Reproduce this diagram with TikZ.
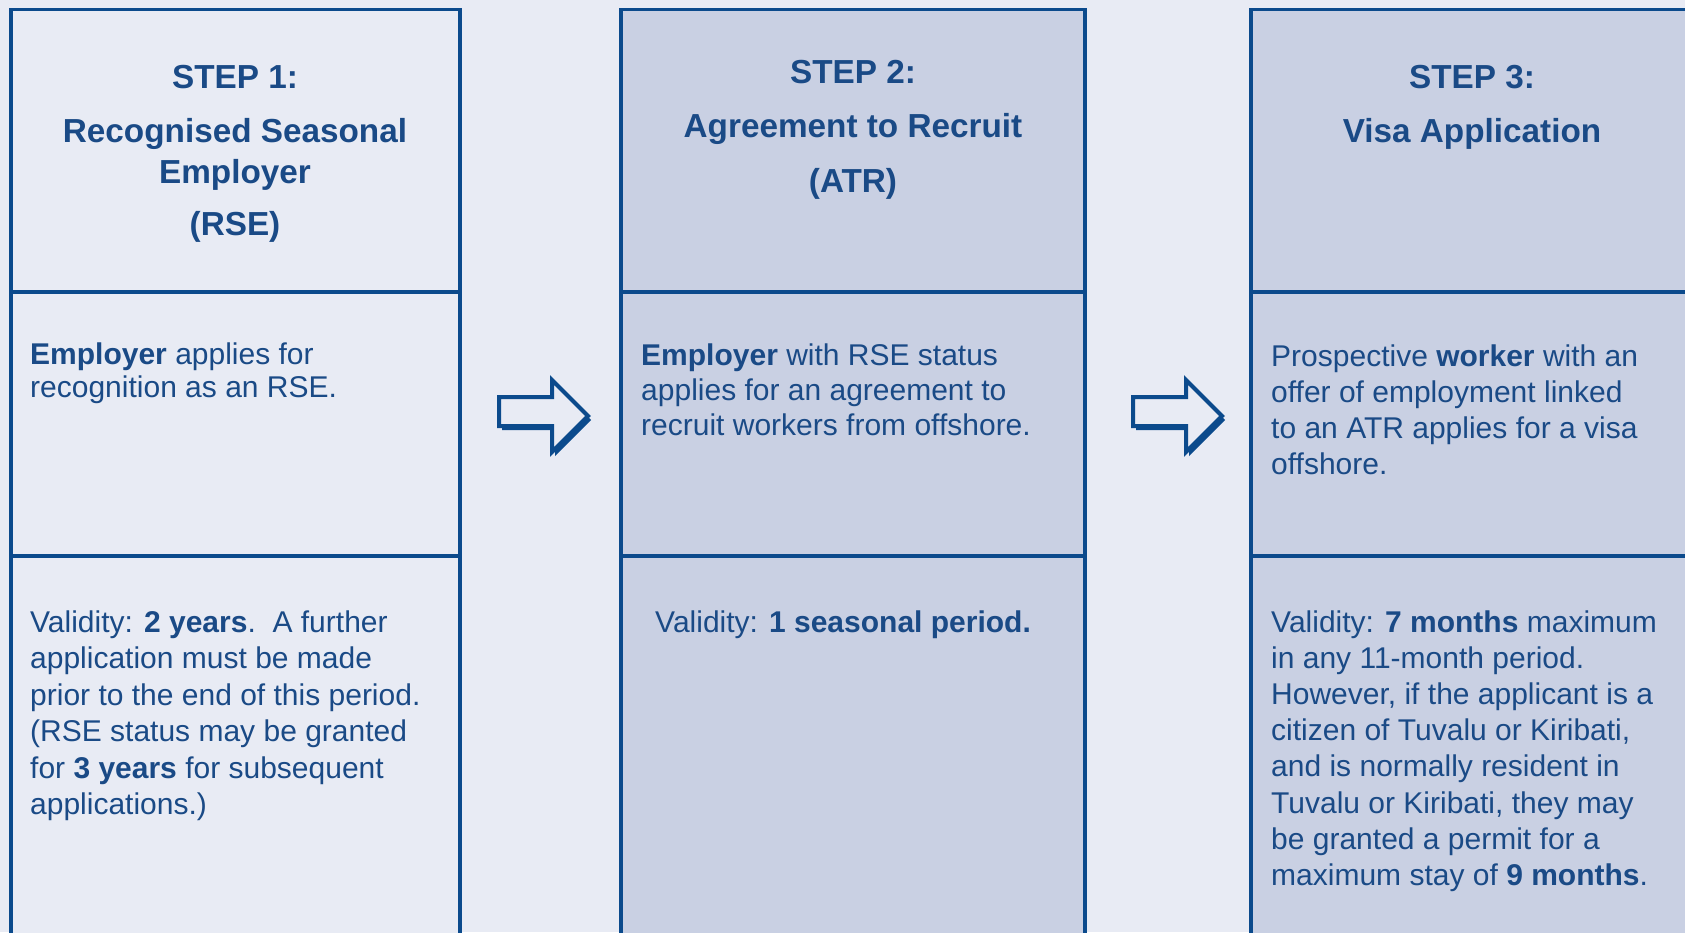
\documentclass[tikz,border=0pt]{standalone}
\usepackage{fontspec}
\setmainfont{Liberation Sans}
\definecolor{bgblue}{HTML}{E8EBF4}
\definecolor{boxblue}{HTML}{C9D0E3}
\definecolor{lineblue}{HTML}{0B4A8C}
\definecolor{txtblue}{HTML}{1A4A86}
\begin{document}
\begin{tikzpicture}[x=1pt,y=-1pt,
  frame/.style={draw=lineblue, line width=3.6pt},
  divider/.style={draw=lineblue, line width=3.6pt},
  head/.style={text=txtblue, font=\fontsize{33.3}{40}\selectfont\bfseries, anchor=base, inner sep=0pt},
  body/.style={text=txtblue, font=\fontsize{30}{36.3}\selectfont, anchor=base west, align=left, inner sep=0pt},
  arrowshape/.style={fill=bgblue, draw=lineblue, line width=4pt, line join=miter},
  arrowshadow/.style={fill=lineblue},
  blockarr/.pic={
    \path[arrowshadow, shift={(3,4)}] (0,20) -- (53,20) -- (53,3) -- (89,39) -- (53,75) -- (53,49) -- (0,49) -- cycle;
    \path[arrowshape] (0,20) -- (53,20) -- (53,3) -- (89,39) -- (53,75) -- (53,49) -- (0,49) -- cycle;
  }]
\useasboundingbox (0,0) rectangle (1685,932);
\clip (0,0) rectangle (1685,932);
\fill[bgblue] (0,0) rectangle (1685,932);

% boxes
\draw[frame, fill=bgblue] (11,9.5) rectangle (460,960);
\draw[divider] (11,292) -- (460,292);
\draw[divider] (11,556) -- (460,556);

\draw[frame, fill=boxblue] (621,9.5) rectangle (1085,960);
\draw[divider] (621,292) -- (1085,292);
\draw[divider] (621,556) -- (1085,556);

\draw[frame, fill=boxblue] (1251,9.5) rectangle (1700,960);
\draw[divider] (1251,292) -- (1700,292);
\draw[divider] (1251,556) -- (1700,556);

% arrows
\pic (arrA) at (499,377) {blockarr};
\pic (arrB) at (1133,377) {blockarr};

% headings
\node[head] (h1a) at (235,88) {STEP 1:};
\node[head] (h1b) at (235,142) {Recognised Seasonal};
\node[head] (h1c) at (235,183) {Employer};
\node[head] (h1d) at (235,235) {(RSE)};

\node[head] (h2a) at (853,83) {STEP 2:};
\node[head] (h2b) at (853,137) {Agreement to Recruit};
\node[head] (h2c) at (853,192) {(ATR)};

\node[head] (h3a) at (1472,88) {STEP 3:};
\node[head] (h3b) at (1472,142) {Visa Application};

% middle row (anchor = baseline of last line)
\node[body, font=\fontsize{30}{33.3}\selectfont] (m1) at (30,397.3)
  {\textbf{Employer} applies for\\recognition as an RSE.};
\node[body, font=\fontsize{30}{35}\selectfont] (m2) at (641,435)
  {\textbf{Employer} with RSE status\\applies for an agreement to\\recruit workers from offshore.};
\node[body, font=\fontsize{30}{36}\selectfont] (m3) at (1271,474)
  {Prospective \textbf{worker} with an\\offer of employment linked\\to an ATR applies for a visa\\offshore.};

% validity row
\node[body, font=\fontsize{30}{36.5}\selectfont] (v1) at (30,814.5)
  {Validity: \textbf{2 years}.\ \ A further\\application must be made\\prior to the end of this period.\\(RSE status may be granted\\for \textbf{3 years} for subsequent\\applications.)};
\node[body] (v2) at (655,632)
  {Validity: \textbf{1 seasonal period.}};
\node[body, font=\fontsize{30}{36.2}\selectfont] (v3) at (1271,885.4)
  {Validity: \textbf{7 months} maximum\\in any 11-month period.\\However, if the applicant is a\\citizen of Tuvalu or Kiribati,\\and is normally resident in\\Tuvalu or Kiribati, they may\\be granted a permit for a\\maximum stay of \textbf{9 months}.};
\end{tikzpicture}
\end{document}
